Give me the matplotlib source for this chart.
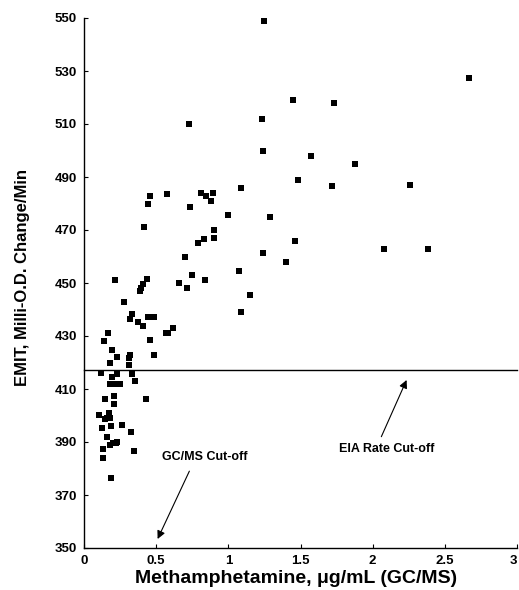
import matplotlib
matplotlib.use("Agg")
import matplotlib.pyplot as plt

plt.rcParams['font.family'] = ['Liberation Sans', 'DejaVu Sans']

# Data
meth_x = [2.67, 1.45, 1.73, 1.57, 1.88, 1.48, 1.72, 2.26, 1.46, 2.08, 2.38, 1.40,
          1.25, 1.23, 0.73, 1.24, 0.46, 0.575, 0.81, 0.845, 0.895, 1.09, 0.88, 0.44,
          0.735, 1.00, 1.29, 0.415, 0.90, 0.83, 0.79, 0.90, 1.24, 0.70, 1.075, 0.75,
          0.66, 0.835, 0.715, 1.15, 1.085, 0.215, 0.435, 0.41, 0.395, 0.39, 0.28, 0.335,
          0.32, 0.375, 0.41, 0.445, 0.487, 0.62, 0.565, 0.58, 0.165, 0.14, 0.455, 0.195,
          0.23, 0.32, 0.315, 0.485, 0.18, 0.315, 0.115, 0.195, 0.23, 0.33, 0.355, 0.18,
          0.22, 0.25, 0.145, 0.205, 0.205, 0.43, 0.105, 0.17, 0.145, 0.16, 0.18, 0.125,
          0.19, 0.265, 0.325, 0.16, 0.20, 0.225, 0.23, 0.18, 0.13, 0.345, 0.13, 0.19]
emit_y = [527.5, 519, 518, 498, 495, 489, 486.5, 487, 466, 463, 463, 458,
          549, 512, 510, 500, 483, 483.5, 484, 483, 484, 486, 481, 480,
          478.5, 475.5, 475, 471, 470, 466.5, 465, 467, 461.5, 460, 454.5, 453,
          450, 451, 448, 445.5, 439, 451, 451.5, 449.5, 448, 447, 443, 438.3,
          436.5, 435.3, 433.8, 437, 437, 433, 431, 431, 431, 428.2, 428.5, 424.7,
          422.1, 423, 421.8, 423, 419.7, 419, 416.1, 414.5, 415.6, 415.6, 413, 411.7,
          412, 411.7, 406.3, 407.4, 404.5, 406.3, 400.2, 401, 398.7, 399, 399, 395.3,
          396, 396.4, 393.8, 391.9, 389.6, 389.5, 390.1, 389, 387.4, 386.6, 384, 376.4]

eia_cutoff = 417.2
x_ticks = [0, 0.5, 1, 1.5, 2, 2.5, 3]
x_tick_labels = ["0", "0.5", "1", "1.5", "2", "2.5", "3"]
y_ticks = [350, 370, 390, 410, 430, 450, 470, 490, 510, 530, 550]

fig = plt.figure(figsize=(5.19, 5.90), dpi=100)
ax = fig.add_axes([84/519, 1-548/590, 433/519, 530/590])

ax.scatter(meth_x, emit_y, marker='s', s=13, color='black', linewidths=0, zorder=3)
ax.axhline(eia_cutoff, color='black', lw=1.0, clip_on=False)

ax.set_xlim(0, 3)
ax.set_ylim(350, 550)
ax.set_xticks(x_ticks)
ax.set_xticklabels(x_tick_labels)
ax.set_yticks(y_ticks)
ax.spines['top'].set_visible(False)
ax.spines['right'].set_visible(False)
for s in ['left', 'bottom']:
    ax.spines[s].set_linewidth(1.0)
ax.tick_params(direction='in', length=3, width=0.8, labelsize=9.5, pad=5)
for lab in ax.get_xticklabels() + ax.get_yticklabels():
    lab.set_fontweight('bold')
ax.get_xticklabels()[-1].set_horizontalalignment('right')

ax.set_xlabel("Methamphetamine, \u03bcg/mL (GC/MS)", fontsize=14, fontweight='bold',
              va='center', ha='center')
ax.xaxis.set_label_coords(0.49, -0.057)
ax.set_ylabel("EMIT, Milli-O.D. Change/Min", fontsize=12, fontweight='bold',
              va='center', ha='center')
ax.yaxis.set_label_coords(-0.141, 0.51)

arrow = dict(arrowstyle='-|>', color='black', lw=0.8, mutation_scale=12, shrinkA=0, shrinkB=0)
ax.annotate("GC/MS Cut-off", xy=(0.51, 353.4), xytext=(0.84, 384.5),
            fontsize=9, fontweight='bold', ha='center', va='center')
ax.annotate("", xy=(0.51, 353.4), xytext=(0.73, 379), arrowprops=arrow)
ax.annotate("EIA Rate Cut-off", xy=(2.235, 413.4), xytext=(2.10, 387.4),
            fontsize=9, fontweight='bold', ha='center', va='center')
ax.annotate("", xy=(2.235, 413.4), xytext=(2.06, 392), arrowprops=arrow)

fig.savefig("out.png", dpi=100)
